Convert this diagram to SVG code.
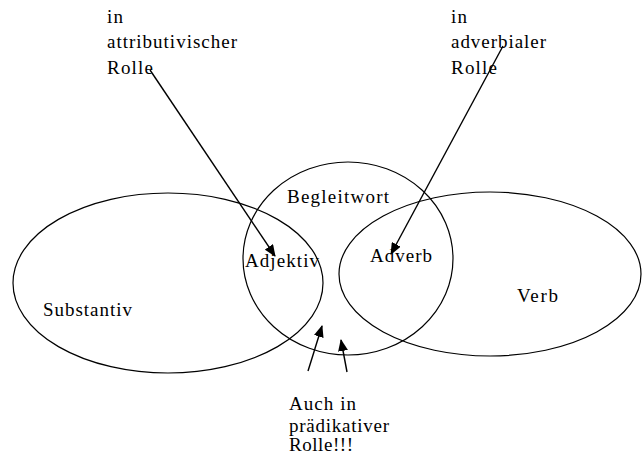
<svg xmlns="http://www.w3.org/2000/svg" width="643" height="454" viewBox="0 0 643 454">
<style>
.sh{fill:none;stroke:#000;stroke-width:1.2}
.t{font-family:"Liberation Serif","Times New Roman",serif;font-size:19px;fill:#000}
.c{stroke:#000;stroke-width:1.4;fill:none;marker-end:url(#ah)}
</style>
<defs>
<marker id="ah" markerWidth="12" markerHeight="10" refX="11" refY="5" orient="auto" markerUnits="userSpaceOnUse">
<path d="M0,0 L12,5 L0,10 Z" fill="#000"/>
</marker>
</defs>
<rect width="643" height="454" fill="#fff"/>
<g id="substantiv">
<ellipse class="sh" cx="168" cy="283" rx="155" ry="90"/>
<text class="t" x="43" y="316" textLength="89">Substantiv</text>
</g>
<g id="begleitwort">
<ellipse class="sh" cx="348" cy="258.5" rx="105" ry="96.5"/>
<text class="t" x="287" y="203" textLength="102">Begleitwort</text>
</g>
<g id="verb">
<ellipse class="sh" cx="490" cy="274" rx="151" ry="82"/>
<text class="t" x="517" y="302" textLength="41">Verb</text>
</g>
<g id="adjektiv">
<text class="t" x="245" y="267" textLength="74">Adjektiv</text>
</g>
<g id="adverb">
<text class="t" x="370" y="262" textLength="62">Adverb</text>
</g>
<g id="attributiv">
<text class="t" x="107" y="23" textLength="16">in</text>
<text class="t" x="107" y="48" textLength="130">attributivischer</text>
<text class="t" x="107" y="74" textLength="46">Rolle</text>
</g>
<g id="adverbial">
<text class="t" x="451" y="23" textLength="16">in</text>
<text class="t" x="451" y="48" textLength="95">adverbialer</text>
<text class="t" x="451" y="74" textLength="46">Rolle</text>
</g>
<g id="praedikativ">
<text class="t" x="289" y="410" textLength="67">Auch in</text>
<text class="t" x="289" y="432" textLength="100">prädikativer</text>
<text class="t" x="289" y="451" textLength="64">Rolle!!!</text>
</g>
<g id="connectors">
<line class="c" x1="150" y1="70" x2="275" y2="256"/>
<line class="c" x1="503" y1="46" x2="391" y2="254"/>
<line class="c" x1="308" y1="371" x2="322" y2="326"/>
<line class="c" x1="347" y1="372" x2="341" y2="340"/>
</g>
</svg>
